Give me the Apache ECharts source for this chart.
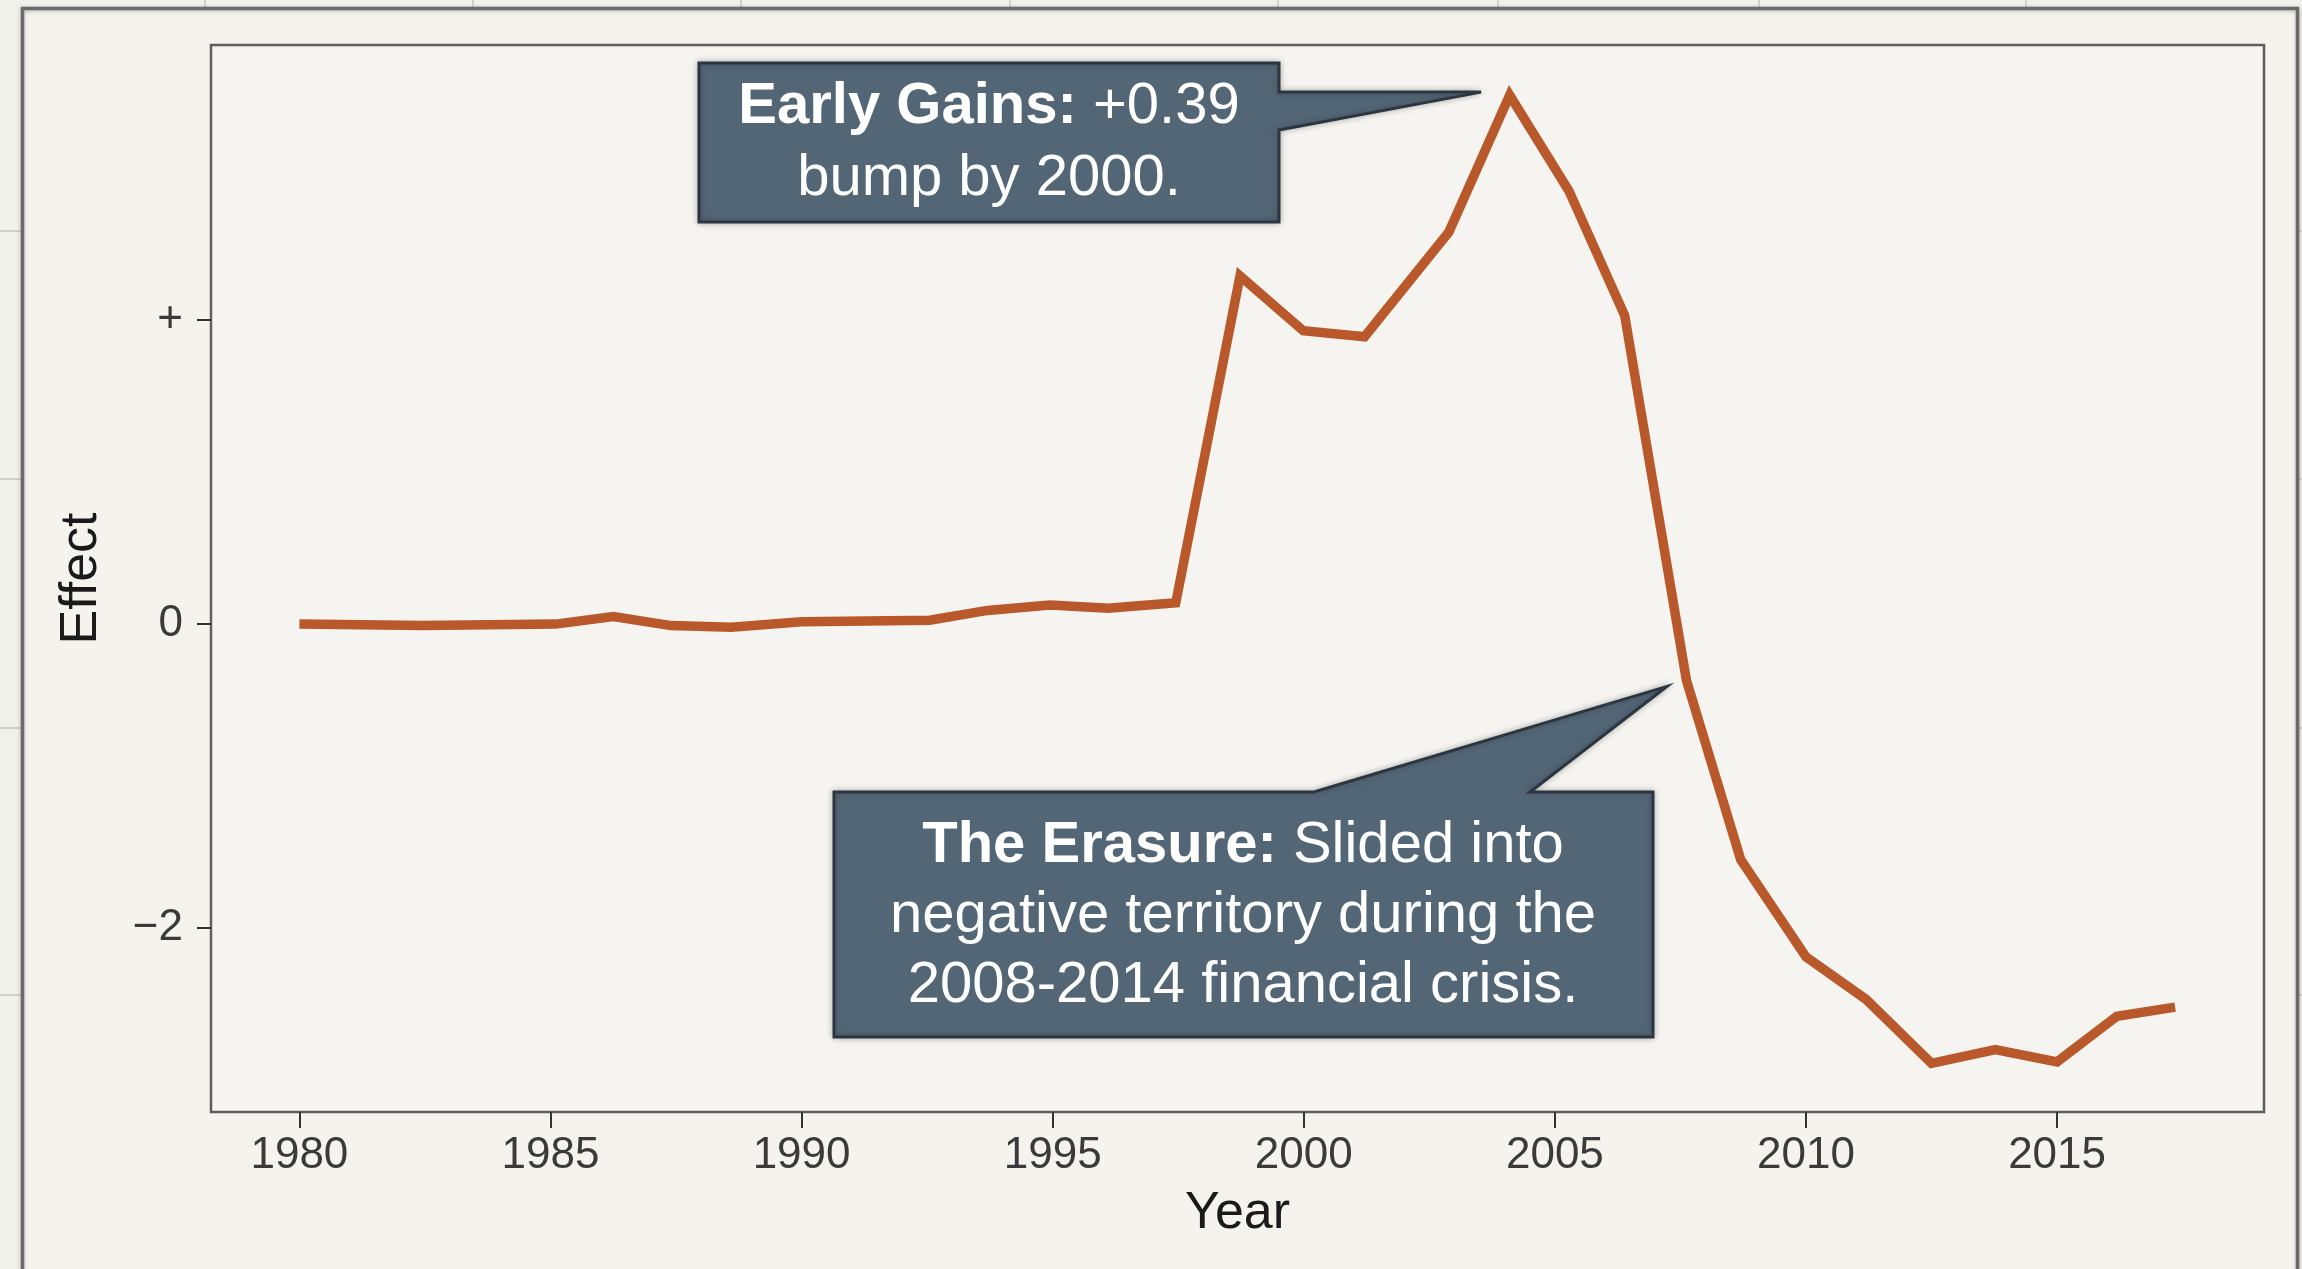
<!DOCTYPE html>
<html>
<head>
<meta charset="utf-8">
<script src="https://cdn.jsdelivr.net/npm/echarts@6/dist/echarts.min.js"></script>
<style>
html,body{margin:0;padding:0;background:#f1f1ec;}
#c{width:2302px;height:1269px;}
</style>
</head>
<body>
<div id="c"></div>
<script>
// ---- data ----
const years  = [1980.0, 1982.45, 1985.1, 1986.25, 1987.4, 1988.6, 1990.0, 1991.3, 1992.55, 1993.7,
                1994.95, 1996.1, 1997.45, 1998.73, 1999.99, 2001.21, 2002.89, 2004.1, 2005.28, 2006.39,
                2007.62, 2008.7, 2010.0, 2011.2, 2012.5, 2013.77, 2015.0, 2016.19, 2017.35];
const effect = [0.0, -0.01, 0.0, 0.05, -0.01, -0.02, 0.015, 0.02, 0.025, 0.09,
                0.125, 0.105, 0.14, 2.29, 1.93, 1.89, 2.58, 3.48, 2.85, 2.03,
                -0.37, -1.55, -2.19, -2.47, -2.89, -2.80, -2.88, -2.58, -2.52];
const xTickValues = [1980, 1985, 1990, 1995, 2000, 2005, 2010, 2015];
const yTickValues = [-2, 0, 2];
const yTickLabels = ['\u22122', '0', '+'];
const xTitle = 'Year';
const yTitle = 'Effect';
const note1Lines = ['{b|Early Gains:}{n| +0.39}', '{n|bump by 2000.}'];
const note1Anchor = [2003.53, 3.5];
const note2Lines = ['{b|The Erasure:}{n| Slided into}', '{n|negative territory during the}', '{n|2008-2014 financial crisis.}'];
const note2Anchor = [2007.23, -0.41];

// ---- chart ----
const FONT = "'Liberation Sans', Arial, Helvetica, sans-serif";
const chart = echarts.init(document.getElementById('c'), null, {renderer: 'canvas'});

const option = {
  backgroundColor: 'transparent',
  animation: false,
  grid: {
    left: 211, right: 38, top: 45, bottom: 157,
    show: true,
    backgroundColor: '#f5f4f0',
    borderColor: '#5e5e5e',
    borderWidth: 2.5,
    outerBoundsMode: 'none',
    containLabel: false
  },
  xAxis: {
    type: 'value',
    min: 1978.24, max: 2019.12,
    name: xTitle, nameLocation: 'middle', nameGap: 76,
    nameTextStyle: {fontFamily: FONT, fontSize: 52, color: '#1a1a1a'},
    axisLine: {show: false, onZero: false},
    splitLine: {show: false},
    axisTick: {show: true, length: 16, inside: false, customValues: xTickValues,
               lineStyle: {color: '#333333', width: 2}},
    axisLabel: {show: true, customValues: xTickValues, margin: 22,
                fontFamily: FONT, fontSize: 44, color: '#3a3a3a',
                formatter: v => String(v)}
  },
  yAxis: {
    type: 'value',
    min: -3.21, max: 3.81,
    name: yTitle, nameLocation: 'middle', nameGap: 103,
    nameTextStyle: {fontFamily: FONT, fontSize: 52, color: '#1a1a1a'},
    axisLine: {show: false, onZero: false},
    splitLine: {show: false},
    axisTick: {show: true, length: 14, inside: false, customValues: yTickValues,
               lineStyle: {color: '#333333', width: 2}},
    axisLabel: {show: true, customValues: yTickValues, margin: 28,
                fontFamily: FONT, fontSize: 44, color: '#3a3a3a',
                formatter: v => {
                  const i = yTickValues.indexOf(Math.round(v));
                  return i >= 0 ? yTickLabels[i] : '';
                }}
  },
  series: [{
    type: 'line',
    data: years.map((y, i) => [y, effect[i]]),
    symbol: 'none',
    showSymbol: false,
    smooth: false,
    lineStyle: {color: '#b9592b', width: 9.5, join: 'miter', cap: 'butt'},
    z: 3
  }]
};
chart.setOption(option);

// ---- decorations & annotations ----
const tip1 = chart.convertToPixel({gridIndex: 0}, note1Anchor);
const tip2 = chart.convertToPixel({gridIndex: 0}, note2Anchor);

const boxFill = '#536676';
const boxStroke = '#2b3640';

const deco = [];
// outer frame
deco.push({type: 'rect', silent: true, z: -20,
  shape: {x: 22.5, y: 8.5, width: 2275, height: 1320},
  style: {fill: '#f4f3ee', stroke: '#6a6a6a', lineWidth: 3.5,
          shadowBlur: 4, shadowColor: 'rgba(0,0,0,0.25)', shadowOffsetY: 1}});
// faint background lines outside the frame
[205, 473, 741, 1010, 1278, 1498, 1759, 2026].forEach(x => deco.push({
  type: 'line', silent: true, z: -30,
  shape: {x1: x, y1: 0, x2: x, y2: 8}, style: {stroke: '#c6c6c2', lineWidth: 1.5}}));
[231, 479, 728, 995].forEach(y => {
  deco.push({type: 'line', silent: true, z: -30,
    shape: {x1: 0, y1: y, x2: 22, y2: y}, style: {stroke: '#c6c6c2', lineWidth: 1.5}});
  deco.push({type: 'line', silent: true, z: -30,
    shape: {x1: 2298, y1: y, x2: 2302, y2: y}, style: {stroke: '#c6c6c2', lineWidth: 1.5}});
});

// annotation 1
deco.push({type: 'polygon', silent: true, z: 20,
  shape: {points: [[699, 63], [1279, 63], [1279, 92], [tip1[0], tip1[1]], [1279, 130], [1279, 222], [699, 222]]},
  style: {fill: boxFill, stroke: boxStroke, lineWidth: 3, lineJoin: 'miter',
          shadowBlur: 6, shadowColor: 'rgba(0,0,0,0.25)'}});
const richStyle = {
  b: {fontFamily: FONT, fontSize: 58, fontWeight: 'bold', fill: '#ffffff', lineHeight: 72},
  n: {fontFamily: FONT, fontSize: 58, fontWeight: 'normal', fill: '#ffffff', lineHeight: 72}
};
deco.push({type: 'text', silent: true, z: 21,
  x: 989, y: 143,
  style: {text: note1Lines.join('\n'), rich: richStyle, fontFamily: FONT, fontSize: 58,
          fill: '#ffffff', lineHeight: 72, align: 'center', textAlign: 'center',
          verticalAlign: 'middle', textVerticalAlign: 'middle'}});

// annotation 2
deco.push({type: 'polygon', silent: true, z: 20,
  shape: {points: [[834, 792], [1314, 792], [tip2[0], tip2[1]], [1530, 792], [1653, 792], [1653, 1037], [834, 1037]]},
  style: {fill: boxFill, stroke: boxStroke, lineWidth: 3, lineJoin: 'miter',
          shadowBlur: 6, shadowColor: 'rgba(0,0,0,0.25)'}});
const richStyle2 = {
  b: {fontFamily: FONT, fontSize: 58, fontWeight: 'bold', fill: '#ffffff', lineHeight: 70},
  n: {fontFamily: FONT, fontSize: 58, fontWeight: 'normal', fill: '#ffffff', lineHeight: 70}
};
deco.push({type: 'text', silent: true, z: 21,
  x: 1243, y: 916,
  style: {text: note2Lines.join('\n'), rich: richStyle2, fontFamily: FONT, fontSize: 58,
          fill: '#ffffff', lineHeight: 70, align: 'center', textAlign: 'center',
          verticalAlign: 'middle', textVerticalAlign: 'middle'}});

chart.setOption({graphic: {elements: deco}});
</script>
</body>
</html>
